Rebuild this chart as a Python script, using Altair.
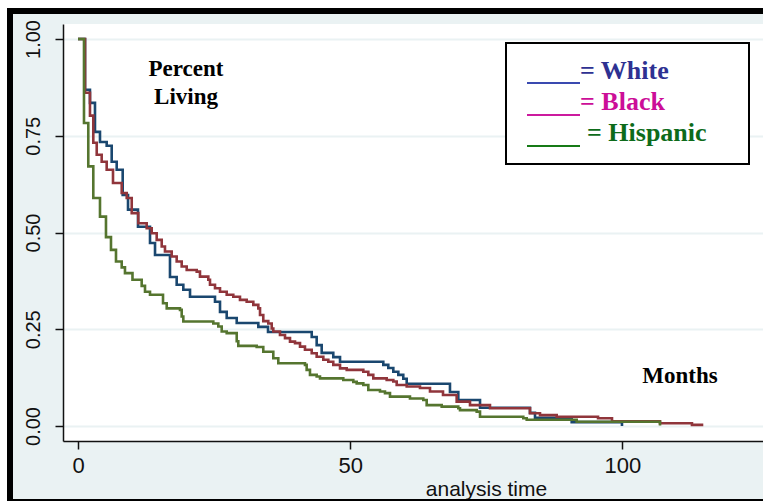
import altair as alt
import pandas as pd

# ---- data (Kaplan-Meier survival estimates) ----
white_t = [0, 1.29, 2.20, 3.12, 4.04, 5.27, 6.19, 7.11, 8.21, 9.19,
           11.02, 13.23, 14.15, 16.90, 18.13, 19.35, 20.58, 25.17, 26.09, 27.32,
           29.16, 33.13, 34.91, 42.94, 43.85, 44.77, 46.90, 48.14, 56.09, 57.01,
           57.93, 58.85, 59.76, 60.39, 68.34, 69.87, 73.86, 83.04, 83.96, 90.70,
           99.94]
white_s = [1.0, 0.869, 0.835, 0.760, 0.734, 0.724, 0.683, 0.662, 0.597, 0.559,
           0.515, 0.473, 0.442, 0.385, 0.365, 0.352, 0.334, 0.321, 0.295, 0.279,
           0.266, 0.256, 0.243, 0.230, 0.209, 0.189, 0.178, 0.166, 0.158, 0.150,
           0.140, 0.132, 0.122, 0.109, 0.088, 0.067, 0.047, 0.034, 0.021, 0.010,
           0.0]

black_t = [0, 1.29, 2.20, 2.81, 3.44, 4.35, 5.27, 6.43, 8.03, 8.95,
           9.87, 11.08, 12.62, 13.54, 14.46, 15.38, 15.98, 17.21, 18.13, 19.05,
           19.97, 21.81, 22.41, 23.94, 24.25, 25.17, 26.09, 27.32, 28.53, 29.76,
           30.99, 32.21, 33.13, 33.44, 34.04, 34.96, 35.59, 35.88, 37.11, 38.03,
           38.95, 39.87, 40.79, 41.70, 42.94, 43.85, 45.07, 45.99, 46.90, 48.14,
           49.37, 52.42, 53.34, 54.25, 56.71, 57.93, 58.55, 60.39, 62.83, 64.67,
           67.06, 69.57, 72.02, 75.69, 83.04, 84.88, 87.95, 95.54, 98.11, 106.92,
           112.80, 114.88]
black_s = [1.0, 0.861, 0.802, 0.732, 0.701, 0.683, 0.662, 0.628, 0.602, 0.589,
           0.550, 0.524, 0.511, 0.498, 0.481, 0.464, 0.451, 0.438, 0.425, 0.412,
           0.403, 0.399, 0.386, 0.378, 0.365, 0.356, 0.347, 0.339, 0.334, 0.326,
           0.321, 0.313, 0.304, 0.287, 0.271, 0.265, 0.252, 0.244, 0.235, 0.227,
           0.218, 0.214, 0.205, 0.197, 0.188, 0.179, 0.171, 0.166, 0.158, 0.149,
           0.145, 0.140, 0.132, 0.123, 0.119, 0.115, 0.106, 0.102, 0.098, 0.089,
           0.080, 0.063, 0.054, 0.046, 0.033, 0.028, 0.024, 0.020, 0.012, 0.007,
           0.003, 0.003]

hisp_t = [0, 1.10, 1.89, 2.81, 4.04, 5.14, 6.06, 6.98, 8.03, 8.63,
          10.01, 11.70, 12.31, 13.23, 15.62, 16.30, 18.74, 19.05, 19.35, 24.86,
          25.78, 26.40, 27.32, 29.16, 29.45, 32.83, 34.04, 35.88, 36.80, 41.70,
          42.01, 42.62, 43.85, 44.46, 48.74, 50.58, 51.20, 52.42, 53.34, 55.48,
          56.40, 57.32, 60.99, 63.44, 64.06, 66.82, 69.87, 70.18, 73.25, 73.86,
          81.81, 82.44, 91.62, 106.93]
hisp_s = [1.0, 0.783, 0.671, 0.589, 0.541, 0.488, 0.455, 0.425, 0.410, 0.395,
          0.378, 0.362, 0.347, 0.339, 0.317, 0.304, 0.300, 0.283, 0.270, 0.265,
          0.257, 0.244, 0.240, 0.219, 0.207, 0.204, 0.192, 0.175, 0.162, 0.158,
          0.145, 0.132, 0.128, 0.123, 0.119, 0.114, 0.110, 0.106, 0.093, 0.089,
          0.085, 0.076, 0.071, 0.067, 0.054, 0.050, 0.046, 0.041, 0.037, 0.024,
          0.020, 0.016, 0.011, 0.001]

x_ticks = [0, 50, 100]
y_ticks = [0.0, 0.25, 0.5, 0.75, 1.0]

W, H = 700, 417
BG = "#eaf2f3"

x_scale = alt.Scale(domain=[-2.756, 125.85], nice=False, zero=False)
y_scale = alt.Scale(domain=[-0.0388, 1.0388], nice=False, zero=False)

x_axis = alt.Axis(values=x_ticks, grid=False, domainColor="#111111", domainWidth=1.5,
                  tickColor="#111111", tickWidth=1.5, tickSize=8,
                  labelFont="Liberation Sans", labelFontSize=22, labelColor="#111111",
                  labelPadding=6, title="analysis time", titleFont="Liberation Sans",
                  titleFontSize=21, titleFontWeight="normal", titleColor="#111111",
                  titleX=423, titleY=54, titleBaseline="alphabetic", titleAnchor="start",
                  titleAlign="center")
y_axis = alt.Axis(values=y_ticks, format=".2f", grid=True, gridColor=BG, gridWidth=2,
                  domainColor="#111111", domainWidth=1.5, tickColor="#111111",
                  tickWidth=1.5, tickSize=8, labelAngle=-90, labelAlign="center",
                  labelBaseline="bottom", labelFont="Liberation Sans", labelFontSize=20,
                  labelColor="#111111", labelPadding=12, title=None)


def curve(t, s, color, name):
    df = pd.DataFrame({"t": t, "s": s, "group": name})
    return alt.Chart(df).mark_line(interpolate="step-after", strokeWidth=2.6,
                                   color=color).encode(
        x=alt.X("t:Q", scale=x_scale, axis=x_axis),
        y=alt.Y("s:Q", scale=y_scale, axis=y_axis),
    )


one = pd.DataFrame({"k": [0]})


def rect(x, x2, y, y2, fill, stroke=None, sw=0):
    kw = dict(fill=fill)
    if stroke:
        kw.update(stroke=stroke, strokeWidth=sw)
    return alt.Chart(one).mark_rect(**kw).encode(
        x=alt.value(x), x2=alt.value(x2), y=alt.value(y), y2=alt.value(y2))


def text(label, x, y, color, size, align="left"):
    return alt.Chart(one).mark_text(text=label, font="Liberation Serif", fontWeight="bold",
                                    fontSize=size, color=color, align=align,
                                    baseline="alphabetic").encode(
        x=alt.value(x), y=alt.value(y))


def rule(x, x2, y, color):
    return alt.Chart(one).mark_rule(color=color, strokeWidth=2).encode(
        x=alt.value(x), x2=alt.value(x2), y=alt.value(y))


frame = [
    rect(-63, W, -24, -16, "white"),
    rect(-63, -56, -24, H + 60, "white"),
    rect(-56, W, -16, -10, "black"),
    rect(-56, -50, -16, H + 60, "black"),
    rect(-56, W, H + 58, H + 60, "black"),
]

legend = [
    rect(443, 686, 19, 140, "white", "black", 2),
    rule(464, 517, 59, "#3a4ab0"),
    rule(464, 517, 91, "#cc1a9e"),
    rule(464, 517, 122, "#167a16"),
    text("= White", 517, 55, "#2e3192", 26),
    text("= Black", 517, 86, "#cc0e98", 26),
    text("= Hispanic", 524, 117, "#0d6b1a", 26),
]

notes = [
    text("Percent", 123, 52, "black", 23, "center"),
    text("Living", 123, 80, "black", 23, "center"),
    text("Months", 617, 359, "black", 23, "center"),
]

chart = alt.layer(
    *frame,
    curve(white_t, white_s, "#1a476f", "White"),
    curve(black_t, black_s, "#90353b", "Black"),
    curve(hisp_t, hisp_s, "#55752f", "Hispanic"),
    *legend,
    *notes,
).properties(
    width=W, height=H,
    padding={"left": 63, "top": 24, "right": 0, "bottom": 60},
    autosize=alt.AutoSizeParams(type="none"),
    background=BG,
).configure_view(fill="white", strokeWidth=0)

chart.save("out.html", embed_options={"renderer": "svg", "actions": False})
